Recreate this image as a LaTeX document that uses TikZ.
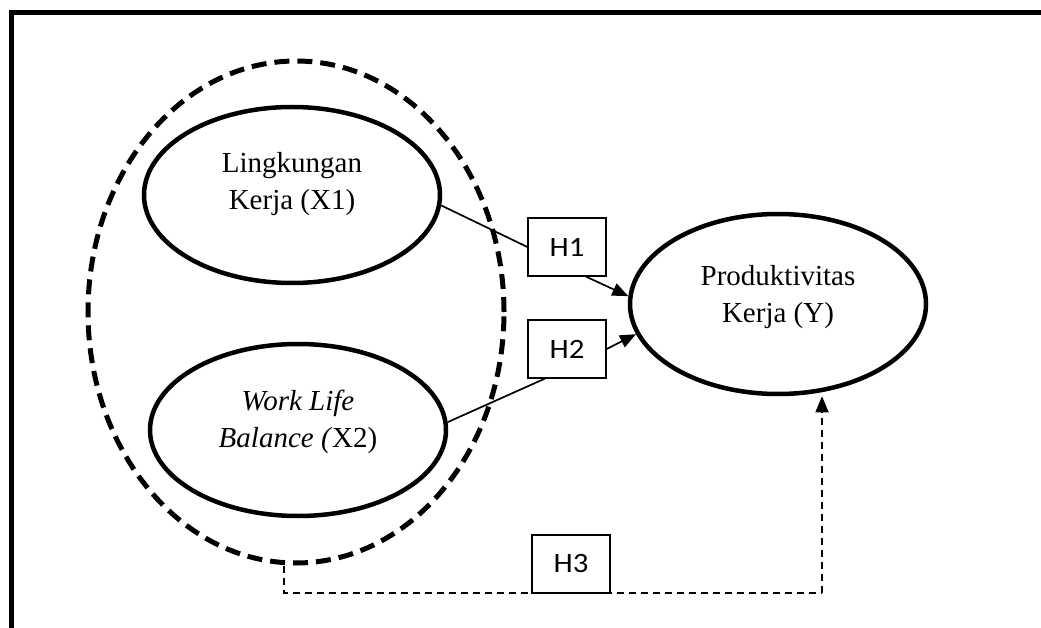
\documentclass[tikz,border=0pt]{standalone}
\usepackage{graphicx}
\usepackage{fontspec}
\setmainfont{Liberation Serif}
\newfontfamily\calib{Carlito}
\newcommand\hlab[1]{\scalebox{1.1}[1]{#1}}
\usetikzlibrary{arrows.meta,calc,shapes.geometric}
\begin{document}
\begin{tikzpicture}[x=1pt,y=-1pt,
  var/.style={draw, ellipse, line width=4.5pt, inner sep=0pt},
  group/.style={draw, ellipse, line width=5pt, dash pattern=on 15pt off 8pt, inner sep=0pt},
  lbl/.style={align=center, font=\fontsize{29}{37}\selectfont, inner sep=0pt},
  hbox/.style={draw, line width=1.3pt, fill=white, minimum width=78pt, minimum height=58pt, inner sep=0pt, font=\calib\fontsize{28}{28}\selectfont},
  link/.style={line width=1.7pt},
  tip/.style={-{Triangle[length=16pt,width=13pt]}},
  arr/.style={line width=1.7pt, tip},
  dlink/.style={line width=1.6pt, dash pattern=on 7pt off 5pt}
]
\useasboundingbox (0,0) rectangle (1041,628);
\draw[line width=5pt] (11.5,630) -- (11.5,12.5) -- (1043,12.5);

\node[group, minimum width=416pt, minimum height=502pt] (D) at (296,312) {};
\node[var, minimum width=296pt, minimum height=176pt] (X1) at (292,195) {};
\node[var, minimum width=296pt, minimum height=172pt] (X2) at (298,430) {};
\node[var, minimum width=296pt, minimum height=180pt] (Y) at (778,304) {};

\node[lbl] (tX1) at (292,184) {Lingkungan\\Kerja (X1)};
\node[lbl] (tX2) at (298,422) {\textit{Work Life}\\\textit{Balance (}X2)};
\node[lbl] (tY) at (778,297) {Produktivitas\\Kerja (Y)};

\coordinate (p1) at (284,593);
\coordinate (p2) at (822,593);
\draw[dlink] (p1 |- D.south) -- (p1) -- (p2);
\draw[dlink, tip] (p2) -- (p2 |- Y.south);

\node[hbox] (H1) at (567,247) {\hlab{H1}};
\node[hbox] (H2) at (567,349) {\hlab{H2}};
\node[hbox] (H3) at (571,564) {\hlab{H3}};

\draw[link] (X1.-4) -- (H1.west);
\draw[arr] ($(H1.south west)!0.74!(H1.south east)$) -- (Y.177);
\draw[link] (X2.3) -- ($(H2.south west)!0.22!(H2.south east)$);
\draw[arr] (H2.east) -- (Y.192);
\end{tikzpicture}
\end{document}
